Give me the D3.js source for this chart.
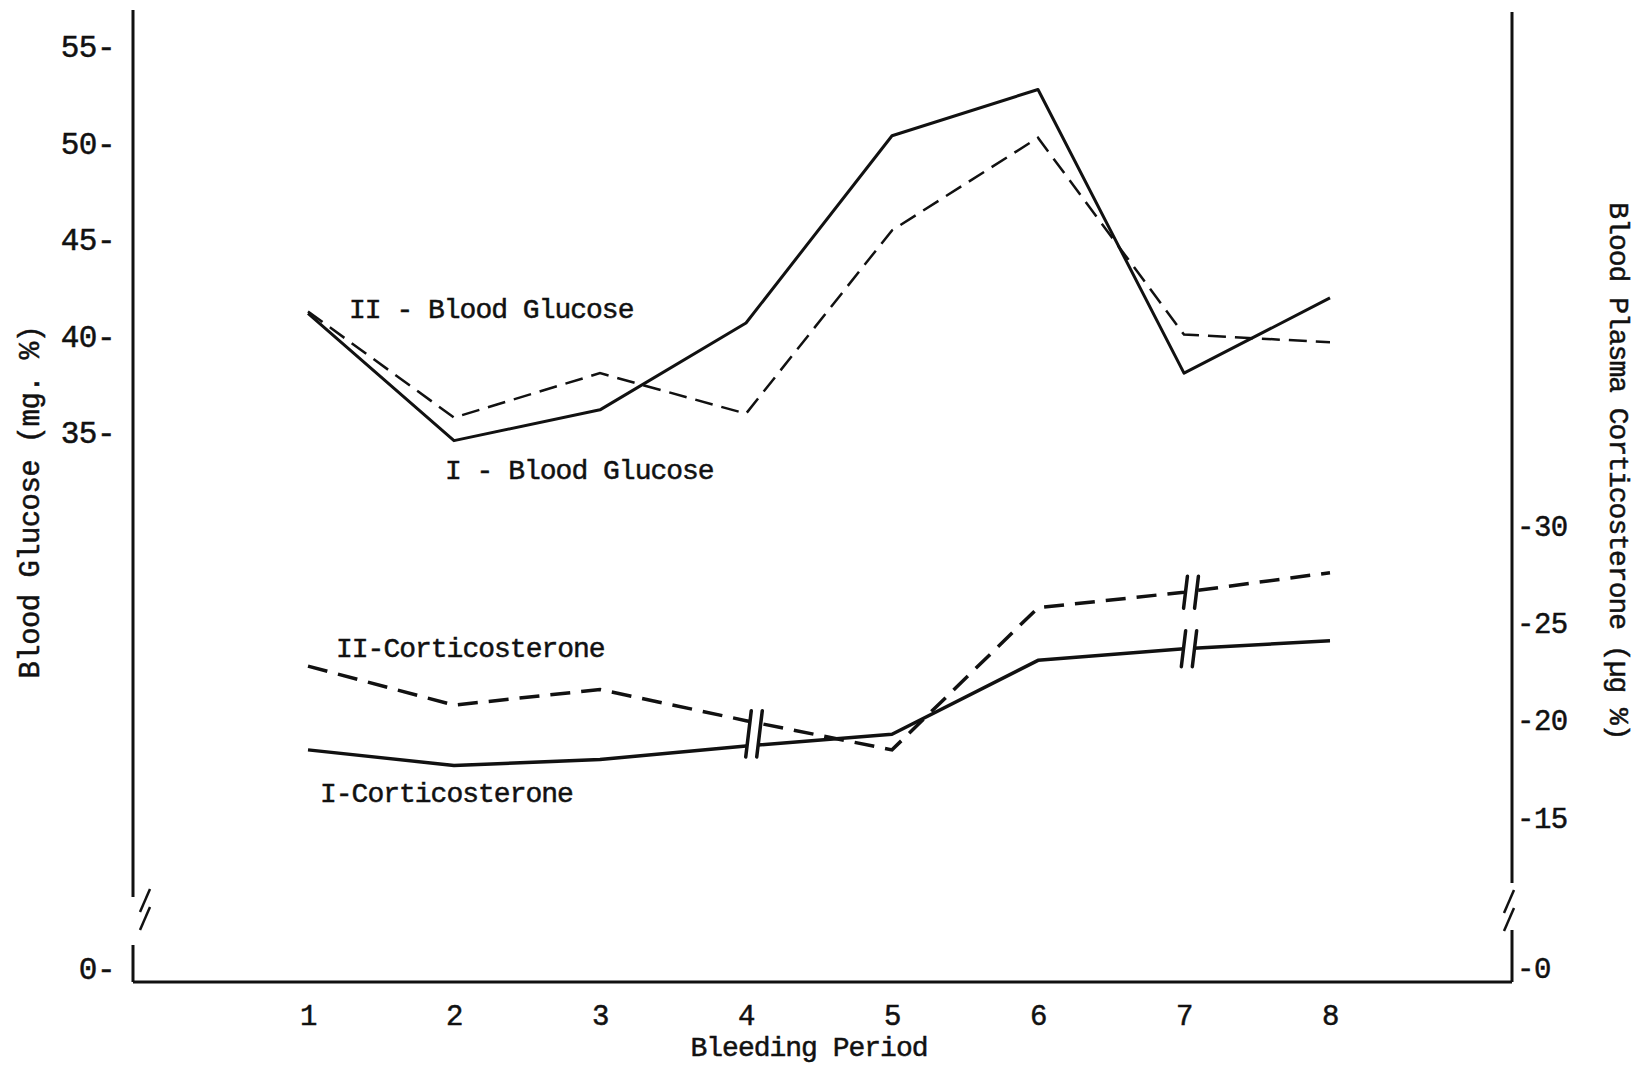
<!DOCTYPE html>
<html lang="en">
<head>
<meta charset="utf-8" />
<title>Blood glucose and corticosterone by bleeding period</title>
<script src="https://cdn.jsdelivr.net/npm/d3@7"></script>
<style>
  body { margin: 0; background: #fff; }
  svg text { font-family: "Liberation Mono", "Courier New", monospace; fill: #111; stroke: #111; stroke-width: 0.5px; }
  .lbl { font-size: 28px; letter-spacing: -1px; }
  .ttl { font-size: 29px; letter-spacing: -0.6px; }
  .tick text { font-size: 29px; letter-spacing: -0.5px; }
  .left .tick text { font-size: 31px; letter-spacing: -0.5px; }
</style>
</head>
<body>
<div id="chart"></div>
<script>
// values
var periods = [1, 2, 3, 4, 5, 6, 7, 8];
var glucoseI  = [41.2, 34.5, 36.2, 40.7, 50.4, 52.8, 38.1, 42.0];
var glucoseII = [41.3, 35.8, 38.1, 36.0, 45.5, 50.3, 40.1, 39.7];
var corticoI  = [18.5, 17.7, 18.0, 18.7, 19.3, 23.1, 23.7, 24.1];
var corticoII = [22.8, 20.8, 21.6, 20.0, 18.5, 25.8, 26.6, 27.6];
var leftTicks  = [0, 35, 40, 45, 50, 55];
var rightTicks = [0, 15, 20, 25, 30];

var width = 1643, height = 1065;
var axL = 133, axR = 1512, axB = 982;

var x = d3.scaleLinear().domain([1, 8]).range([308, 1330]);
// broken axes: 0 sits below the break
var yL = d3.scaleLinear().domain([0, 35, 55]).range([969, 433, 47]);
var yR = d3.scaleLinear().domain([0, 15, 30]).range([968, 818, 526]);

var svg = d3.select("#chart").append("svg")
    .attr("width", width)
    .attr("height", height);

svg.append("rect").attr("width", width).attr("height", height).attr("fill", "#fff");

// axis lines with breaks
var axisLines = [
  [axL, 10, axL, 897], [axL, 945, axL, axB],
  [axR, 12, axR, 883], [axR, 930, axR, axB],
  [axL, axB, axR, axB]
];
svg.selectAll(".axline").data(axisLines).enter().append("line")
    .attr("x1", d => d[0]).attr("y1", d => d[1])
    .attr("x2", d => d[2]).attr("y2", d => d[3])
    .attr("stroke", "#111").attr("stroke-width", 3);

function axisBreak(cx, y0) {
  [0, 18].forEach(function(o) {
    svg.append("line")
      .attr("x1", cx + 5).attr("y1", y0 + o)
      .attr("x2", cx - 5).attr("y2", y0 + o + 23)
      .attr("stroke", "#111").attr("stroke-width", 2.5);
  });
}
axisBreak(axL + 12, 889);
axisBreak(axR - 3, 890);

// tick labels
var gL = svg.append("g").attr("class", "left").attr("transform", "translate(" + axL + ",0)")
    .call(d3.axisLeft(yL).tickValues(leftTicks).tickSize(0).tickPadding(18)
      .tickFormat(d => d + "-"));
var gR = svg.append("g").attr("transform", "translate(" + axR + ",0)")
    .call(d3.axisRight(yR).tickValues(rightTicks).tickSize(0).tickPadding(5)
      .tickFormat(d => "-" + d));
var gB = svg.append("g").attr("transform", "translate(0," + axB + ")")
    .call(d3.axisBottom(x).tickValues(periods).tickSize(0).tickPadding(22)
      .tickFormat(d3.format("d")));
[gL, gR, gB].forEach(function(g) {
  g.select(".domain").remove();
  g.selectAll("text").attr("font-family", null).attr("font-size", null).attr("fill", "#111");
});

// series
var lineL = d3.line().x((d, i) => x(periods[i])).y(d => yL(d));
var lineR = d3.line().x((d, i) => x(periods[i])).y(d => yR(d));

svg.append("path").attr("d", lineL(glucoseI))
    .attr("fill", "none").attr("stroke", "#111").attr("stroke-width", 3)
    .attr("stroke-linejoin", "round");
svg.append("path").attr("d", lineL(glucoseII))
    .attr("fill", "none").attr("stroke", "#111").attr("stroke-width", 2.5)
    .attr("stroke-dasharray", "18,9");
svg.append("path").attr("d", lineR(corticoI))
    .attr("fill", "none").attr("stroke", "#111").attr("stroke-width", 3.5)
    .attr("stroke-linejoin", "round");
svg.append("path").attr("d", lineR(corticoII))
    .attr("fill", "none").attr("stroke", "#111").attr("stroke-width", 3.5)
    .attr("stroke-dasharray", "20,11");

// "//" breaks on the corticosterone lines
function lineBreak(cx, yTop, yBot) {
  var t = (yBot - yTop) * 0.12, w = 11;
  svg.append("polygon")
    .attr("points", [[cx - w / 2 + t / 2, yTop], [cx + w / 2 + t / 2, yTop],
                     [cx + w / 2 - t / 2, yBot], [cx - w / 2 - t / 2, yBot]].join(" "))
    .attr("fill", "#fff");
  [-w / 2, w / 2].forEach(function(o) {
    svg.append("line")
      .attr("x1", cx + o + t / 2).attr("y1", yTop)
      .attr("x2", cx + o - t / 2).attr("y2", yBot)
      .attr("stroke", "#111").attr("stroke-width", 3.5).attr("stroke-linecap", "round");
  });
}
var i4 = periods.indexOf(4), i7 = periods.indexOf(7);
lineBreak(x(4) + 8, yR(corticoII[i4]) - 10, yR(corticoI[i4]) + 11);
lineBreak(x(7) + 7, yR(corticoII[i7]) - 16, yR(corticoII[i7]) + 16);
lineBreak(x(7) + 5, yR(corticoI[i7]) - 18, yR(corticoI[i7]) + 18);

// series labels
var labels = [
  ["II - Blood Glucose", 349, 309],
  ["I - Blood Glucose", 445, 470],
  ["II-Corticosterone", 336, 648],
  ["I-Corticosterone", 320, 793]
];
svg.selectAll(".slabel").data(labels).enter().append("text")
    .attr("class", "lbl")
    .attr("x", d => d[1]).attr("y", d => d[2]).attr("dy", "0.32em")
    .text(d => d[0]);

// axis titles
svg.append("text").attr("class", "ttl")
    .attr("transform", "translate(29,502) rotate(-90)")
    .attr("text-anchor", "middle").attr("dy", "0.35em")
    .text("Blood Glucose (mg. %)");
svg.append("text").attr("class", "lbl")
    .attr("transform", "translate(1620,471) rotate(90)")
    .attr("text-anchor", "middle").attr("dy", "0.35em")
    .text("Blood Plasma Corticosterone (\u00b5g %)");
svg.append("text").attr("class", "lbl")
    .attr("x", 809).attr("y", 1046).attr("dy", "0.35em")
    .attr("text-anchor", "middle")
    .text("Bleeding Period");
</script>
</body>
</html>
